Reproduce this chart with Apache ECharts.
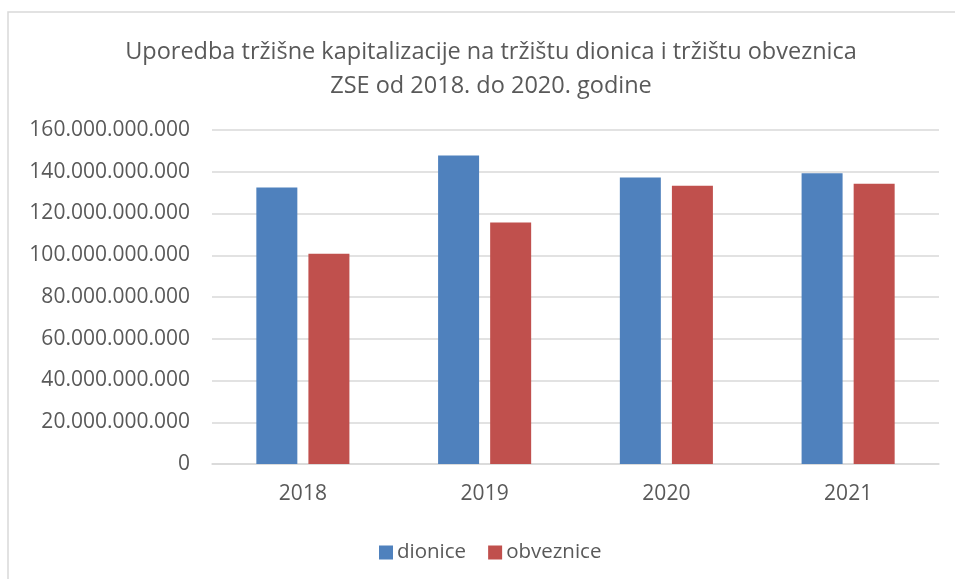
<!DOCTYPE html>
<html><head><meta charset="utf-8">
<script src="https://cdn.jsdelivr.net/npm/echarts@6/dist/echarts.min.js"></script>
<style>html,body{margin:0;padding:0;background:#fff}#c{width:955px;height:579px}</style>
</head><body><div id="c"></div>
<script>
const categories = ['2018', '2019', '2020', '2021'];
const dionice = [132500000000, 147800000000, 137200000000, 139300000000];
const obveznice = [100700000000, 115700000000, 133300000000, 134200000000];
const seriesNames = ['dionice', 'obveznice'];
const titleText = 'Uporedba tržišne kapitalizacije na tržištu dionica i tržištu obveznica\nZSE od 2018. do 2020. godine';

const FONT = '"Open Sans", "Noto Sans", sans-serif';
const chart = echarts.init(document.getElementById('c'), null, {renderer: 'canvas'});
function fmt(v) {
  return String(v).replace(/\B(?=(\d{3})+(?!\d))/g, '.');
}
chart.setOption({
  animation: false,
  backgroundColor: '#fff',
  graphic: [{
    type: 'rect', shape: {x: 8, y: 12, width: 1000, height: 1000},
    style: {fill: 'none', stroke: '#d9d9d9', lineWidth: 1.5}, silent: true
  }],
  title: {
    text: titleText, left: 486, top: 30, textAlign: 'center',
    textStyle: {fontFamily: FONT, fontSize: 23.5, fontWeight: 'normal', color: '#595959', lineHeight: 34}
  },
  legend: {
    data: seriesNames, left: 374, top: 537, itemWidth: 14, itemHeight: 14, itemGap: 22,
    icon: 'rect',
    textStyle: {fontFamily: FONT, fontSize: 20.5, color: '#595959', padding: [0, 0, 0, -1]}
  },
  grid: {left: 212, right: 16, top: 130, bottom: 115, containLabel: false},
  xAxis: {
    type: 'category', data: categories,
    axisLine: {lineStyle: {color: '#d9d9d9', width: 1.5}},
    axisTick: {show: false},
    axisLabel: {fontFamily: FONT, fontSize: 21, color: '#595959', margin: 20}
  },
  yAxis: {
    type: 'value', min: 0, max: 160000000000, interval: 20000000000,
    axisLine: {show: false}, axisTick: {show: false},
    splitLine: {lineStyle: {color: '#d9d9d9', width: 1.5}},
    axisLabel: {fontFamily: FONT, fontSize: 21, color: '#595959', margin: 22, formatter: fmt}
  },
  series: [
    {name: seriesNames[0], type: 'bar', data: dionice, barWidth: 41, barGap: '27%',
     itemStyle: {color: '#4F81BD'}},
    {name: seriesNames[1], type: 'bar', data: obveznice, barWidth: 41, barGap: '27%',
     itemStyle: {color: '#C0504D'}}
  ]
});
</script></body></html>
